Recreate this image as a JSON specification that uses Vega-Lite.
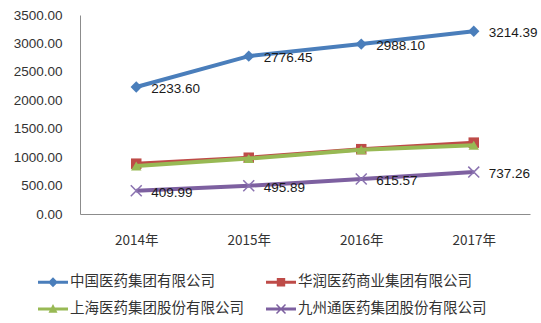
{
  "$schema": "https://vega.github.io/schema/vega-lite/v6.json",
  "width": 450,
  "height": 199,
  "autosize": "none",
  "padding": {"left": 80, "top": 15, "right": 11, "bottom": 109},
  "background": "white",
  "config": {
    "view": {"stroke": null},
    "axis": {"labelFont": "Liberation Sans", "labelFontSize": 13.5, "labelColor": "#333333", "ticks": false, "grid": false, "domainColor": "#8c8c8c", "domainWidth": 1}
  },
  "data": {
    "values": [
      {"year": "2014年", "company": "中国医药集团有限公司", "value": 2233.60},
      {"year": "2015年", "company": "中国医药集团有限公司", "value": 2776.45},
      {"year": "2016年", "company": "中国医药集团有限公司", "value": 2988.10},
      {"year": "2017年", "company": "中国医药集团有限公司", "value": 3214.39},
      {"year": "2014年", "company": "华润医药商业集团有限公司", "value": 885},
      {"year": "2015年", "company": "华润医药商业集团有限公司", "value": 990},
      {"year": "2016年", "company": "华润医药商业集团有限公司", "value": 1140},
      {"year": "2017年", "company": "华润医药商业集团有限公司", "value": 1255},
      {"year": "2014年", "company": "上海医药集团股份有限公司", "value": 845},
      {"year": "2015年", "company": "上海医药集团股份有限公司", "value": 975},
      {"year": "2016年", "company": "上海医药集团股份有限公司", "value": 1130},
      {"year": "2017年", "company": "上海医药集团股份有限公司", "value": 1210},
      {"year": "2014年", "company": "九州通医药集团股份有限公司", "value": 409.99},
      {"year": "2015年", "company": "九州通医药集团股份有限公司", "value": 495.89},
      {"year": "2016年", "company": "九州通医药集团股份有限公司", "value": 615.57},
      {"year": "2017年", "company": "九州通医药集团股份有限公司", "value": 737.26}
    ]
  },
  "encoding": {
    "x": {
      "field": "year", "type": "ordinal", "title": null,
      "scale": {"type": "point", "padding": 0.5},
      "axis": {"labelAngle": 0, "labelFont": "Noto Sans CJK SC", "labelPadding": 19}
    },
    "y": {
      "field": "value", "type": "quantitative", "title": null,
      "scale": {"domain": [0, 3500], "nice": false},
      "axis": {"values": [0, 500, 1000, 1500, 2000, 2500, 3000, 3500], "format": ".2f", "labelPadding": 18}
    }
  },
  "layer": [
    {"transform": [{"filter": "datum.company === '中国医药集团有限公司'"}], "mark": {"type": "line", "color": "#4A7EBB", "strokeWidth": 4}},
    {"transform": [{"filter": "datum.company === '中国医药集团有限公司'"}], "mark": {"type": "point", "shape": "diamond", "filled": true, "color": "#4A7EBB", "opacity": 1, "size": 130}},
    {"transform": [{"filter": "datum.company === '华润医药商业集团有限公司'"}], "mark": {"type": "line", "color": "#BE4B48", "strokeWidth": 4}},
    {"transform": [{"filter": "datum.company === '华润医药商业集团有限公司'"}], "mark": {"type": "point", "shape": "square", "filled": true, "color": "#BE4B48", "opacity": 1, "size": 110}},
    {"transform": [{"filter": "datum.company === '上海医药集团股份有限公司'"}], "mark": {"type": "line", "color": "#98B954", "strokeWidth": 4}},
    {"transform": [{"filter": "datum.company === '上海医药集团股份有限公司'"}], "mark": {"type": "point", "shape": "triangle-up", "filled": true, "color": "#98B954", "opacity": 1, "size": 110}},
    {"transform": [{"filter": "datum.company === '九州通医药集团股份有限公司'"}], "mark": {"type": "line", "color": "#7D60A0", "strokeWidth": 4}},
    {"transform": [{"filter": "datum.company === '九州通医药集团股份有限公司'"}], "mark": {"type": "point", "shape": "M-1,-1L1,1M-1,1L1,-1", "filled": false, "color": "#8A72B0", "strokeWidth": 1.5, "opacity": 1, "size": 120}},
    {
      "transform": [{"filter": "datum.company === '中国医药集团有限公司' || datum.company === '九州通医药集团股份有限公司'"}],
      "mark": {"type": "text", "align": "left", "baseline": "middle", "dx": 15, "dy": 2, "font": "Liberation Sans", "fontSize": 13.5, "color": "#1a1a1a"},
      "encoding": {"text": {"field": "value", "type": "quantitative", "format": ".2f"}}
    },
    {
      "transform": [{"filter": "false"}],
      "mark": {"type": "point", "filled": true, "opacity": 1, "size": 900},
      "encoding": {
        "color": {
          "field": "company", "type": "nominal",
          "scale": {
            "domain": ["中国医药集团有限公司", "华润医药商业集团有限公司", "上海医药集团股份有限公司", "九州通医药集团股份有限公司"],
            "range": ["#4A7EBB", "#BE4B48", "#98B954", "#7D60A0"]
          },
          "legend": {
            "title": null, "orient": "none", "direction": "horizontal", "legendX": -42, "legendY": 252, "columns": 2,
            "columnPadding": 22, "rowPadding": 5, "symbolSize": 900, "symbolStrokeWidth": 0, "labelLimit": 400,
            "labelFont": "Noto Sans CJK SC", "labelFontSize": 14.5, "labelColor": "#333333", "labelOffset": 2
          }
        },
        "shape": {
          "field": "company", "type": "nominal",
          "scale": {
            "domain": ["中国医药集团有限公司", "华润医药商业集团有限公司", "上海医药集团股份有限公司", "九州通医药集团股份有限公司"],
            "range": [
              "M-1,-0.1H1V0.1H-1Z M0,-0.33L0.33,0L0,0.33L-0.33,0Z",
              "M-1,-0.1H1V0.1H-1Z M-0.28,-0.28H0.28V0.28H-0.28Z",
              "M-1,-0.1H1V0.1H-1Z M0,-0.33L0.3,0.25H-0.3Z",
              "M-1,-0.1H1V0.1H-1Z M-0.265,-0.335L0.335,0.265L0.265,0.335L-0.335,-0.265Z M0.335,-0.265L-0.265,0.335L-0.335,0.265L0.265,-0.335Z"
            ]
          },
          "legend": {
            "title": null, "orient": "none", "direction": "horizontal", "legendX": -42, "legendY": 252, "columns": 2,
            "columnPadding": 22, "rowPadding": 5, "symbolSize": 900, "symbolStrokeWidth": 0, "labelLimit": 400,
            "labelFont": "Noto Sans CJK SC", "labelFontSize": 14.5, "labelColor": "#333333", "labelOffset": 2
          }
        }
      }
    }
  ]
}
